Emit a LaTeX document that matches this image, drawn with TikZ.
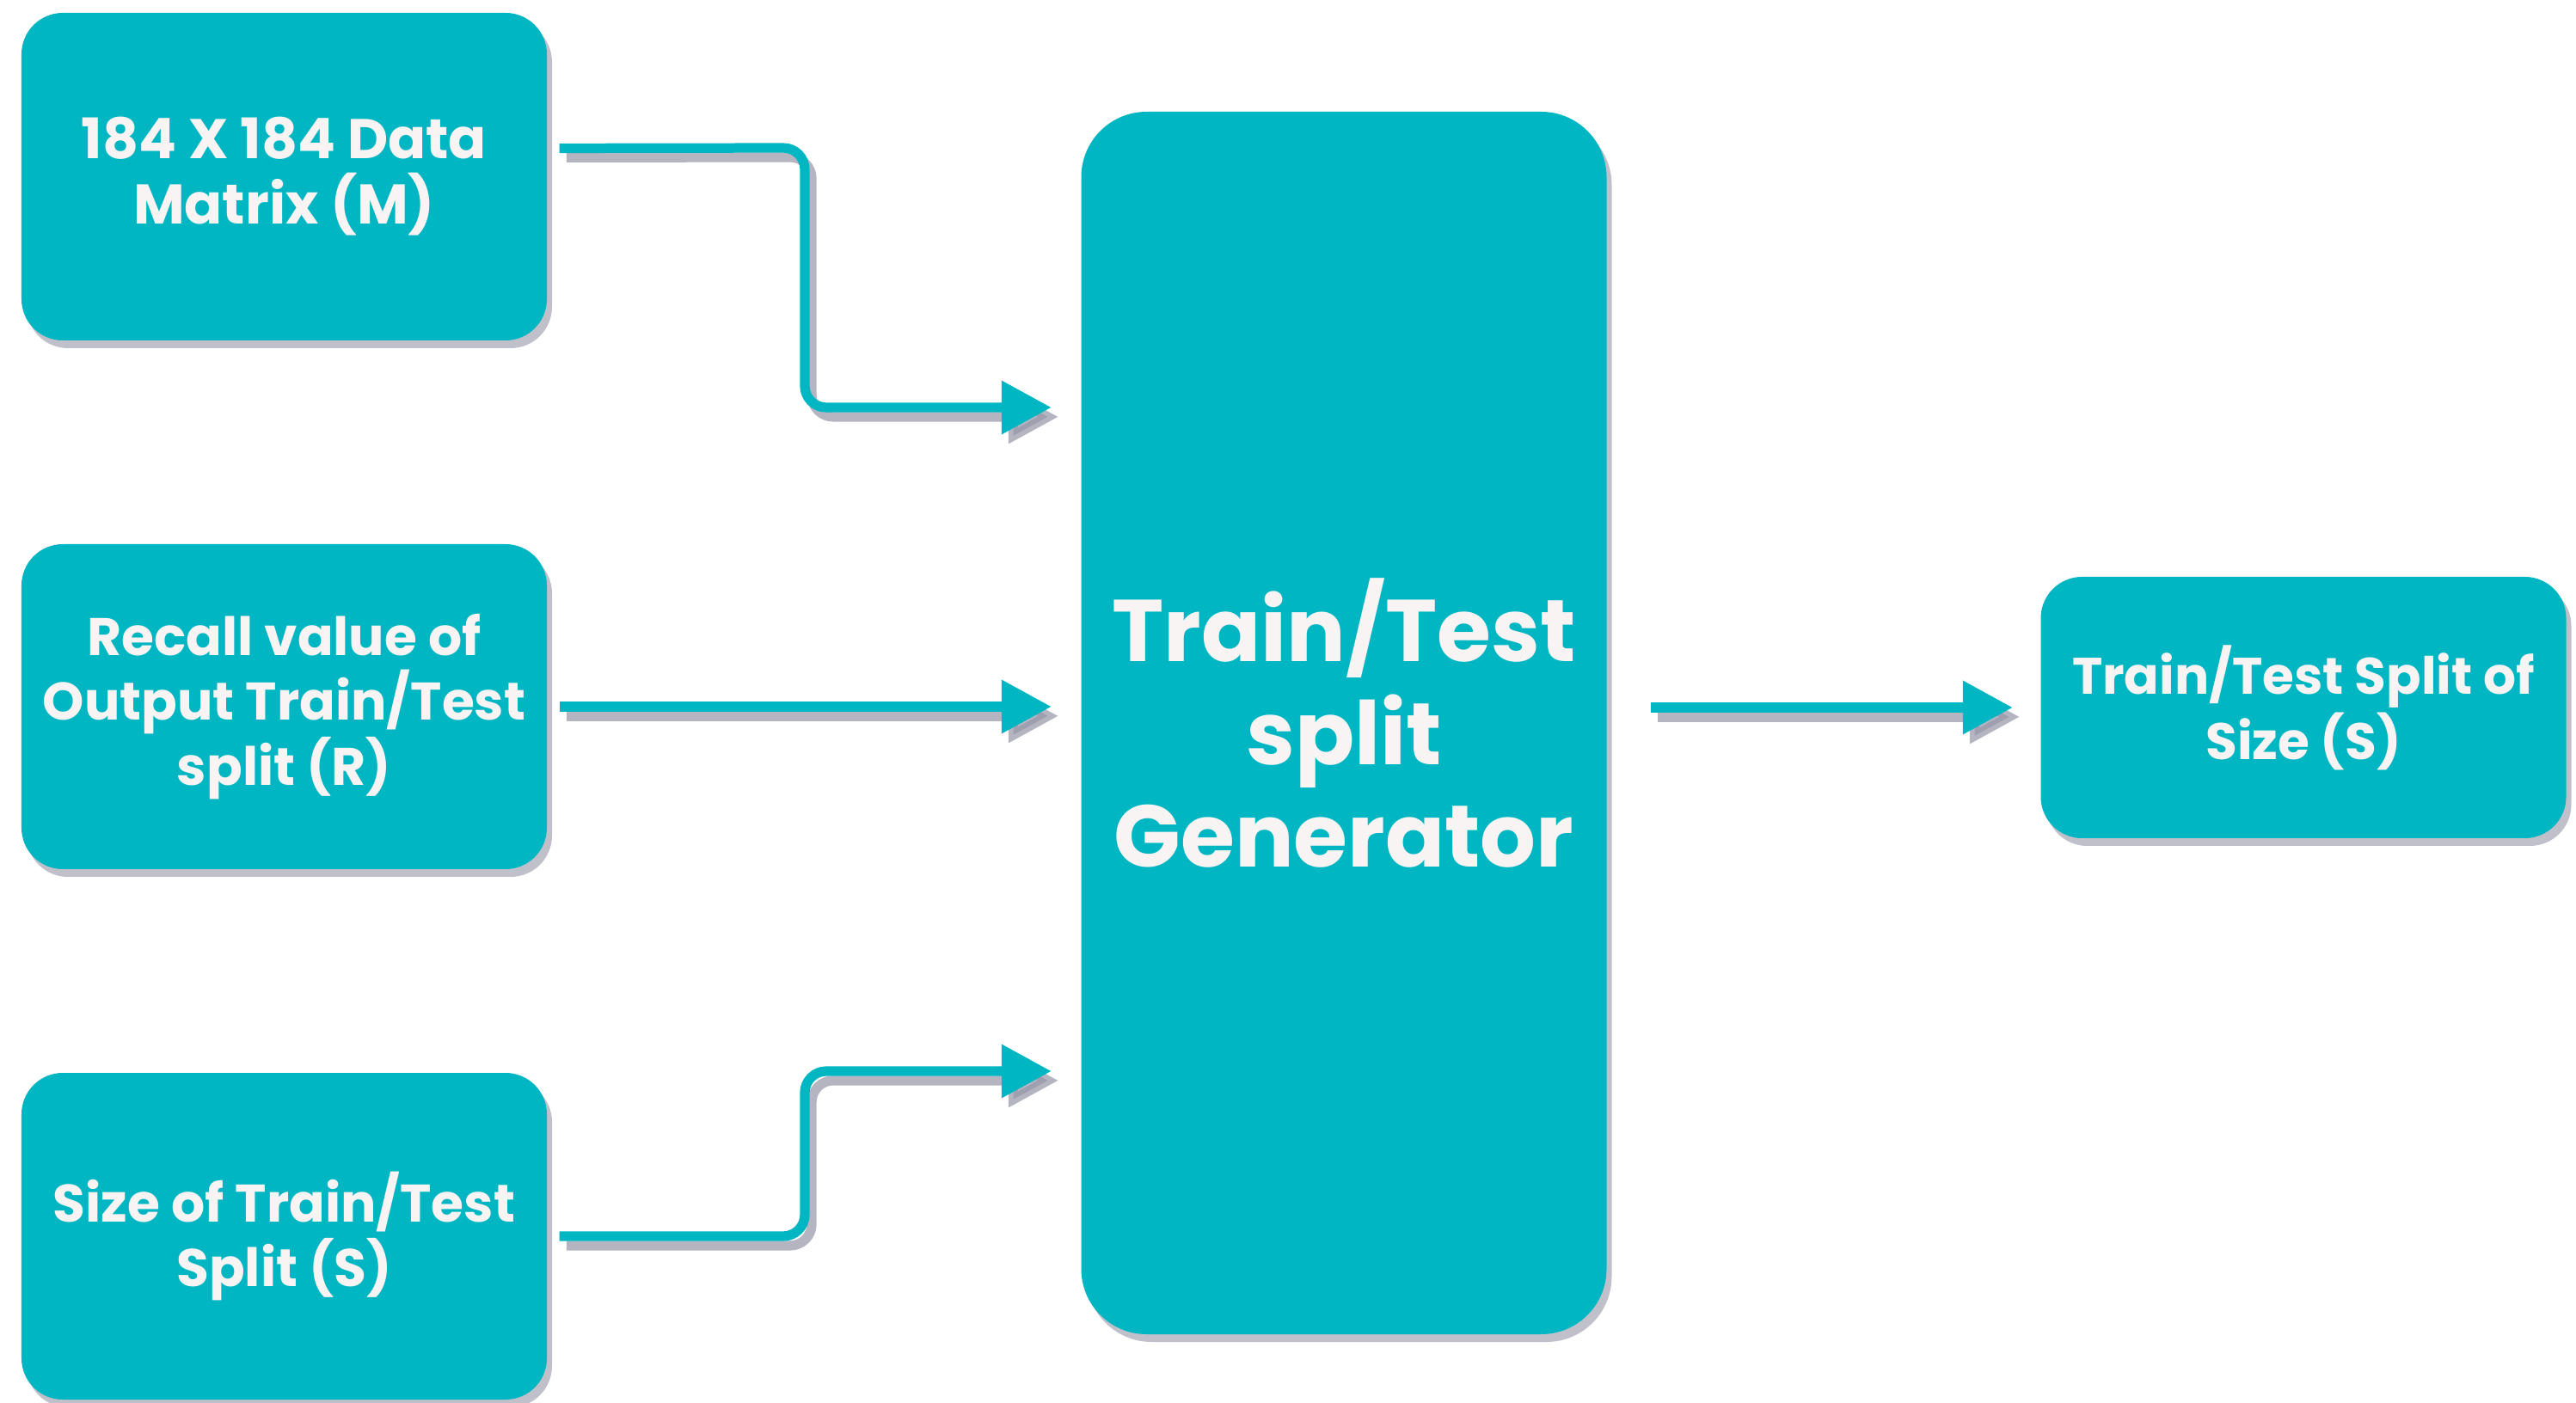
\documentclass[tikz,border=0pt]{standalone}
\usepackage{fontspec}
\setmainfont{Poppins}
\usetikzlibrary{arrows.meta,shadows}
\definecolor{boxteal}{RGB}{0,182,194}
\definecolor{shadowgrey}{RGB}{150,150,168}
\definecolor{txtwhite}{RGB}{248,244,244}
\begin{document}
\begin{tikzpicture}[
  block/.style={rectangle,rounded corners=0.48cm,fill=boxteal,text=txtwhite,
    font=\bfseries\fontsize{17.5}{21.6}\selectfont,align=center,inner sep=0pt,
    minimum width=6.11cm,
    drop shadow={shadow xshift=0.06cm,shadow yshift=-0.09cm,fill=shadowgrey,opacity=0.6}},
  tipline/.style={draw=#1,line width=3.2pt,
    -{Triangle[length=16.5pt,width=17pt,fill=#1,color=#1]}},
  flow/.style={tipline=boxteal},
  flowshade/.style={tipline=shadowgrey,opacity=0.7,transform canvas={xshift=2.3pt,yshift=-3.1pt}}
]
  \useasboundingbox (0,0) rectangle (29.96,-16.32);
  \node[block,minimum height=3.81cm,font=\bfseries\fontsize{18.5}{21.6}\selectfont] (m) at (3.305,-2.055) {184 X 184 Data\\Matrix (M)};
  \node[block,minimum height=3.78cm] (r) at (3.305,-8.22) {Recall value of\\Output Train/Test\\split (R)};
  \node[block,minimum height=3.80cm] (s) at (3.305,-14.38) {Size of Train/Test\\Split (S)};
  \node[block,minimum height=14.22cm,rounded corners=0.76cm,
    font=\bfseries\fontsize{29}{34}\selectfont] (gen) at (15.63,-8.41) {Train/Test\\split\\Generator};
  \node[block,minimum height=3.04cm,font=\bfseries\fontsize{17}{21.6}\selectfont] (out) at (26.79,-8.23) {Train/Test Split of\\Size (S)};
  \coordinate (mbend) at (9.36,-1.72);
  \coordinate (sbend) at (9.36,-14.38);
  \foreach \sty in {flowshade,flow} {
    \draw[\sty,shorten <=0.14cm,shorten >=0.34cm] ([yshift=0.33cm]m.east) {[rounded corners=0.25cm] -- (mbend) |- (gen.west |- 0,-4.74)};
    \draw[\sty,shorten <=0.14cm,shorten >=0.34cm] (r.east) -- (gen.west |- r.east);
    \draw[\sty,shorten <=0.14cm,shorten >=0.34cm] (s.east) {[rounded corners=0.25cm] -- (sbend) |- (gen.west |- 0,-12.46)};
    \draw[\sty,shorten <=0.51cm,shorten >=0.32cm] (gen.east |- out.west) -- (out.west);
  }
\end{tikzpicture}
\end{document}
